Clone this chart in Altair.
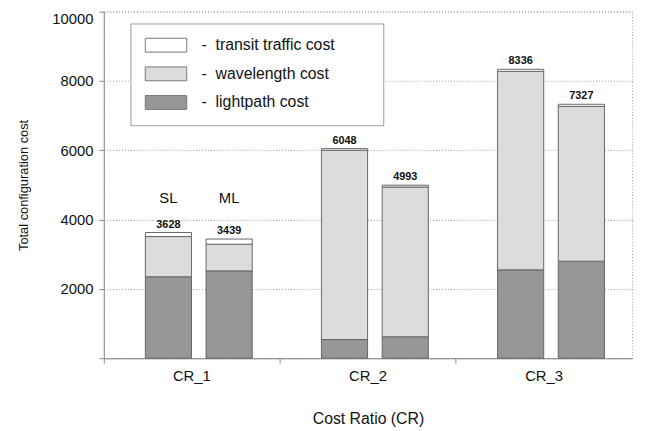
import altair as alt
import pandas as pd

categories = ["CR_1", "CR_2", "CR_3"]
schemes = ["SL", "ML"]
components = ["lightpath cost", "wavelength cost", "transit traffic cost"]

# values per (category, scheme): SL then ML for each CR
lightpath = [2350, 2520, 540, 620, 2550, 2800]
wavelength = [1160, 770, 5460, 4320, 5726, 4467]
transit = [118, 149, 48, 53, 60, 60]
totals = [3628, 3439, 6048, 4993, 8336, 7327]

scheme_label_y = [4630, 4630]

rows = []
tot_rows = []
k = 0
for c in categories:
    for s in schemes:
        for order, (name, vals) in enumerate(zip(components, [lightpath, wavelength, transit])):
            rows.append({"cr": c, "scheme": s, "component": name, "value": vals[k], "order": order})
        tot_rows.append({"cr": c, "scheme": s, "total": totals[k]})
        k += 1

df = pd.DataFrame(rows)
dft = pd.DataFrame(tot_rows)
dfs = pd.DataFrame({"cr": ["CR_1", "CR_1"], "scheme": schemes, "y": scheme_label_y})

FONT = "Liberation Sans"

x_enc = alt.X("cr:N", sort=categories, title="Cost Ratio (CR)",
              scale=alt.Scale(paddingInner=0, paddingOuter=0),
              axis=alt.Axis(labelAngle=0, bandPosition=0, tickSize=5, labelPadding=6,
                            titlePadding=27, titleFontSize=16, grid=False))
xo_scale = alt.Scale(paddingInner=0.24, paddingOuter=0.57, align=0.6)
xo_enc = alt.XOffset("scheme:N", sort=schemes, scale=xo_scale)

y_scale = alt.Scale(domain=[0, 10000], nice=False)

bars = alt.Chart(df).mark_bar(stroke="#666", strokeWidth=1).encode(
    x=x_enc,
    xOffset=xo_enc,
    y=alt.Y("value:Q", stack="zero", scale=y_scale, title="Total configuration cost",
            axis=alt.Axis(values=[0, 2000, 4000, 6000, 8000, 10000], format="d",
                          labelExpr="datum.value == 0 ? '' : datum.label",
                          labelFlush=True,
                          grid=True, gridDash=[1, 2], gridColor="#999",
                          tickSize=5, labelPadding=6, titlePadding=22, titleFontSize=13)),
    color=alt.Color("component:N",
                    scale=alt.Scale(domain=["transit traffic cost", "wavelength cost", "lightpath cost"],
                                    range=["#ffffff", "#dcdcdc", "#969696"]),
                    legend=alt.Legend(title="\u2014\u2014", titleOrient="right", titleColor="white",
                                      titleFont=FONT, titleFontSize=16, titlePadding=3,
                                      titleLimit=100,
                                      orient="none", legendX=27, legendY=12,
                                      symbolType="M-1,-1H5V1H-1Z", symbolSize=196,
                                      symbolStrokeColor="#777", symbolStrokeWidth=1,
                                      symbolOpacity=1,
                                      labelExpr="'-\u00a0 ' + datum.label",
                                      labelLimit=400,
                                      labelFont=FONT, labelFontSize=16, labelColor="#111",
                                      labelOffset=42, rowPadding=11,
                                      padding=14, strokeColor="#999", fillColor="white")),
    order=alt.Order("order:Q"),
)

tot_text = alt.Chart(dft).mark_text(font=FONT, fontSize=11, fontWeight="bold",
                                    baseline="bottom", dy=-3, color="#111").encode(
    x=alt.X("cr:N", sort=categories),
    xOffset=alt.XOffset("scheme:N", sort=schemes, scale=xo_scale),
    y=alt.Y("total:Q", scale=y_scale),
    text=alt.Text("total:Q", format="d"),
)

scheme_text = alt.Chart(dfs).mark_text(font=FONT, fontSize=15, baseline="middle", color="#111").encode(
    x=alt.X("cr:N", sort=categories),
    xOffset=alt.XOffset("scheme:N", sort=schemes, scale=xo_scale),
    y=alt.Y("y:Q", scale=y_scale),
    text="scheme:N",
)

chart = alt.layer(bars, tot_text, scheme_text).properties(
    width=535, height=351,
    autosize=alt.AutoSizeParams(type="none"),
    padding={"left": 97, "top": 1, "right": 10, "bottom": 70},
).configure_view(
    stroke="#999", strokeDash=[1, 2]
).configure_axis(
    domainColor="#888", tickColor="#888", labelFont=FONT, labelFontSize=15, labelColor="#111",
    titleFont=FONT, titleFontSize=14, titleColor="#111", titleFontWeight="normal",
)

chart.save("out.html", embed_options={"renderer": "svg", "actions": False})
